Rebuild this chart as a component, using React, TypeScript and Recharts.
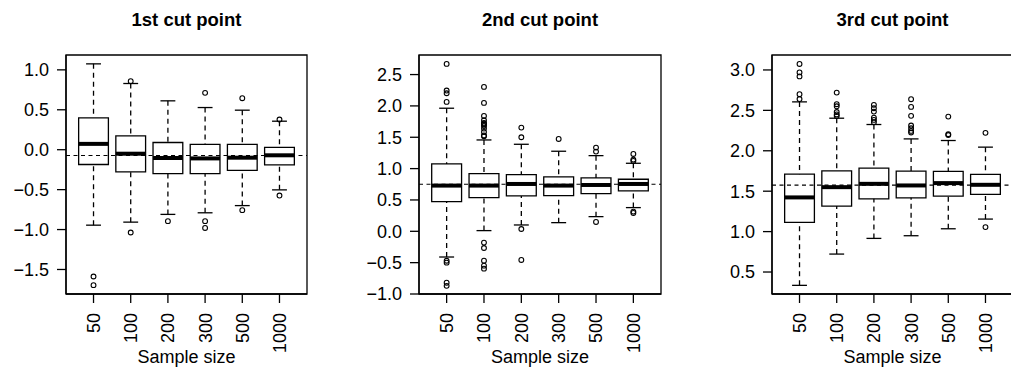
import React from 'react';
import { ComposedChart, XAxis, YAxis, Scatter, ReferenceLine, ReferenceArea } from 'recharts';

const FONT = '"Liberation Sans", Arial, Helvetica, sans-serif';

// ---- data ----
const sampleSizes = ['50', '100', '200', '300', '500', '1000'];
const positions = [1, 2, 3, 4, 5, 6];
const titles = ['1st cut point', '2nd cut point', '3rd cut point'];
const xLabel = 'Sample size';

// five-number summaries per sample size: [lower whisker, Q1, median, Q3, upper whisker]
const cut1Boxes = [
  [-0.945, -0.185, 0.073, 0.399, 1.075],
  [-0.907, -0.277, -0.05, 0.174, 0.829],
  [-0.81, -0.3, -0.104, 0.09, 0.612],
  [-0.79, -0.3, -0.109, 0.067, 0.528],
  [-0.7, -0.26, -0.1, 0.067, 0.495],
  [-0.503, -0.19, -0.07, 0.028, 0.357],
];
const cut1Outliers = [
  [-1.588, -1.696],
  [0.858, -1.037],
  [-0.895],
  [0.712, -0.895, -0.98],
  [0.645, -0.757],
  [0.378, -0.574],
];
const cut1Ref = -0.072;
const cut1Domain = [-1.807, 1.186];
const cut1Ticks = [-1.5, -1.0, -0.5, 0.0, 0.5, 1.0];

const cut2Boxes = [
  [-0.41, 0.473, 0.729, 1.074, 1.963],
  [0.011, 0.537, 0.729, 0.92, 1.457],
  [0.101, 0.564, 0.755, 0.904, 1.388],
  [0.138, 0.569, 0.729, 0.867, 1.277],
  [0.234, 0.601, 0.739, 0.851, 1.207],
  [0.378, 0.644, 0.755, 0.83, 1.085],
];
const cut2Outliers = [
  [2.67, 2.245, 2.202, 2.064, -0.47, -0.5, -0.82, -0.87],
  [2.303, 2.048, 1.84, 1.771, 1.73, 1.718, 1.7, 1.68, 1.638, 1.585, 1.53, 1.516, -0.18, -0.266, -0.468, -0.548, -0.596],
  [1.654, 1.5, 0.037, -0.457],
  [1.473],
  [1.335, 1.271, 0.149],
  [1.234, 1.144, 1.122, 0.314, 0.293],
];
const cut2Ref = 0.75;
const cut2Domain = [-1.0, 2.812];
const cut2Ticks = [-1.0, -0.5, 0.0, 0.5, 1.0, 1.5, 2.0, 2.5];

const cut3Boxes = [
  [0.335, 1.114, 1.423, 1.711, 2.605],
  [0.722, 1.316, 1.55, 1.752, 2.403],
  [0.916, 1.406, 1.591, 1.785, 2.325],
  [0.949, 1.418, 1.571, 1.748, 2.147],
  [1.035, 1.439, 1.6, 1.744, 2.127],
  [1.155, 1.46, 1.579, 1.707, 2.045],
];
const cut3Outliers = [
  [3.074, 2.97, 2.92, 2.7, 2.64],
  [2.72, 2.576, 2.55, 2.48, 2.45, 2.43],
  [2.568, 2.526, 2.485, 2.41, 2.382, 2.353],
  [2.638, 2.543, 2.432, 2.312, 2.279, 2.246, 2.226],
  [2.423, 2.205, 2.195],
  [2.222, 1.056],
];
const cut3Ref = 1.575;
const cut3Domain = [0.228, 3.185];
const cut3Ticks = [0.5, 1.0, 1.5, 2.0, 2.5, 3.0];

// ---- layout / style ----
const CHART_H = 369;
const TOP = 55;
const X_AXIS_H = 75;
const BOX_HALF = 0.4;
const CAP_HALF = 0.2;
const LW = 1.3;
const X_DOMAIN = [0.26, 6.74];

const layouts = [
  { left: 0, width: 337, yAxisWidth: 66, marginRight: 30 },
  { left: 337, width: 353, yAxisWidth: 82, marginRight: 29 },
  { left: 690, width: 330, yAxisWidth: 82, marginRight: 7 },
];

const fmt = (v: number) => v.toFixed(1).replace('-', '\u2212');

const XTick = (props: any) => {
  const { x, y, payload } = props;
  const label = sampleSizes[positions.indexOf(payload.value)];
  return (
    <text
      x={x}
      y={y}
      transform={`rotate(-90, ${x}, ${y})`}
      textAnchor="end"
      dy="0.36em"
      fontSize={18}
      fontFamily={FONT}
      fill="#000"
    >
      {label}
    </text>
  );
};

const Outlier = (props: any) => (
  <circle cx={props.cx} cy={props.cy} r={2.4} fill="none" stroke="#000" strokeWidth={1.1} />
);

type PanelProps = {
  boxes: number[][];
  outliers: number[][];
  refValue: number;
  domain: number[];
  ticks: number[];
  layout: { left: number; width: number; yAxisWidth: number; marginRight: number };
};

function Panel({ boxes, outliers, refValue, domain, ticks, layout }: PanelProps) {
  const outlierData = outliers.flatMap((arr, i) => arr.map((v) => ({ x: positions[i], y: v })));
  return (
    <div style={{ position: 'absolute', left: layout.left, top: 0 }}>
      <ComposedChart
        width={layout.width}
        height={CHART_H}
        margin={{ top: TOP, right: layout.marginRight, bottom: 0, left: 0 }}
      >
        <XAxis
          type="number"
          dataKey="x"
          domain={X_DOMAIN}
          ticks={positions}
          allowDataOverflow
          height={X_AXIS_H}
          tickSize={9}
          tickMargin={10}
          tick={<XTick />}
          interval={0}
          stroke="#000"
          strokeWidth={LW}
          tickLine={{ stroke: '#000', strokeWidth: LW }}
          axisLine={{ stroke: '#000', strokeWidth: LW }}
        />
        <YAxis
          type="number"
          domain={domain}
          ticks={ticks}
          allowDataOverflow
          interval={0}
          width={layout.yAxisWidth}
          tickSize={9}
          tickMargin={8}
          tickFormatter={fmt}
          tick={{ fill: '#000', fontSize: 18, fontFamily: FONT }}
          tickLine={{ stroke: '#000', strokeWidth: LW }}
          axisLine={{ stroke: '#000', strokeWidth: LW }}
        />
        {/* plot frame */}
        <ReferenceArea
          x1={X_DOMAIN[0]}
          x2={X_DOMAIN[1]}
          y1={domain[0]}
          y2={domain[1]}
          ifOverflow="visible"
          fill="none"
          fillOpacity={0}
          stroke="#000"
          strokeWidth={LW}
        />
        <ReferenceLine y={refValue} stroke="#000" strokeWidth={1.1} strokeDasharray="4 3.5" />
        {boxes.map((b, i) => {
          const p = positions[i];
          return (
            <ReferenceArea
              key={`box-${i}`}
              x1={p - BOX_HALF}
              x2={p + BOX_HALF}
              y1={b[1]}
              y2={b[3]}
              fill="none"
              fillOpacity={0}
              stroke="#000"
              strokeWidth={LW}
            />
          );
        })}
        {boxes.map((b, i) => {
          const p = positions[i];
          return [
            <ReferenceLine
              key={`uw-${i}`}
              segment={[{ x: p, y: b[4] }, { x: p, y: b[3] }]}
              stroke="#000"
              strokeWidth={LW}
              strokeDasharray="5 4"
            />,
            <ReferenceLine
              key={`lw-${i}`}
              segment={[{ x: p, y: b[0] }, { x: p, y: b[1] }]}
              stroke="#000"
              strokeWidth={LW}
              strokeDasharray="5 4"
            />,
            <ReferenceLine
              key={`uc-${i}`}
              segment={[{ x: p - CAP_HALF, y: b[4] }, { x: p + CAP_HALF, y: b[4] }]}
              stroke="#000"
              strokeWidth={LW}
            />,
            <ReferenceLine
              key={`lc-${i}`}
              segment={[{ x: p - CAP_HALF, y: b[0] }, { x: p + CAP_HALF, y: b[0] }]}
              stroke="#000"
              strokeWidth={LW}
            />,
            <ReferenceLine
              key={`md-${i}`}
              segment={[{ x: p - BOX_HALF, y: b[2] }, { x: p + BOX_HALF, y: b[2] }]}
              stroke="#000"
              strokeWidth={4}
            />,
          ];
        })}
        <Scatter data={outlierData} dataKey="y" shape={<Outlier />} isAnimationActive={false} />
      </ComposedChart>
    </div>
  );
}

export default function App() {
  const panels = [
    { boxes: cut1Boxes, outliers: cut1Outliers, refValue: cut1Ref, domain: cut1Domain, ticks: cut1Ticks },
    { boxes: cut2Boxes, outliers: cut2Outliers, refValue: cut2Ref, domain: cut2Domain, ticks: cut2Ticks },
    { boxes: cut3Boxes, outliers: cut3Outliers, refValue: cut3Ref, domain: cut3Domain, ticks: cut3Ticks },
  ];
  return (
    <div
      style={{
        position: 'absolute',
        left: 0,
        top: 0,
        width: 1011,
        height: 369,
        overflow: 'hidden',
        background: '#fff',
        fontFamily: FONT,
      }}
    >
      {panels.map((p, i) => (
        <Panel key={i} {...p} layout={layouts[i]} />
      ))}
      <svg
        width={1011}
        height={369}
        style={{ position: 'absolute', left: 0, top: 0, pointerEvents: 'none' }}
      >
        {layouts.map((l, i) => {
          const plotW = l.width - l.yAxisWidth - l.marginRight;
          const cx = l.left + l.yAxisWidth + plotW / 2;
          return (
            <g key={i}>
              <text x={cx} y={26} textAnchor="middle" fontSize={18.5} fontWeight="bold" fontFamily={FONT} fill="#000">
                {titles[i]}
              </text>
              <text x={cx} y={363} textAnchor="middle" fontSize={18} fontFamily={FONT} fill="#000">
                {xLabel}
              </text>
            </g>
          );
        })}
      </svg>
    </div>
  );
}
